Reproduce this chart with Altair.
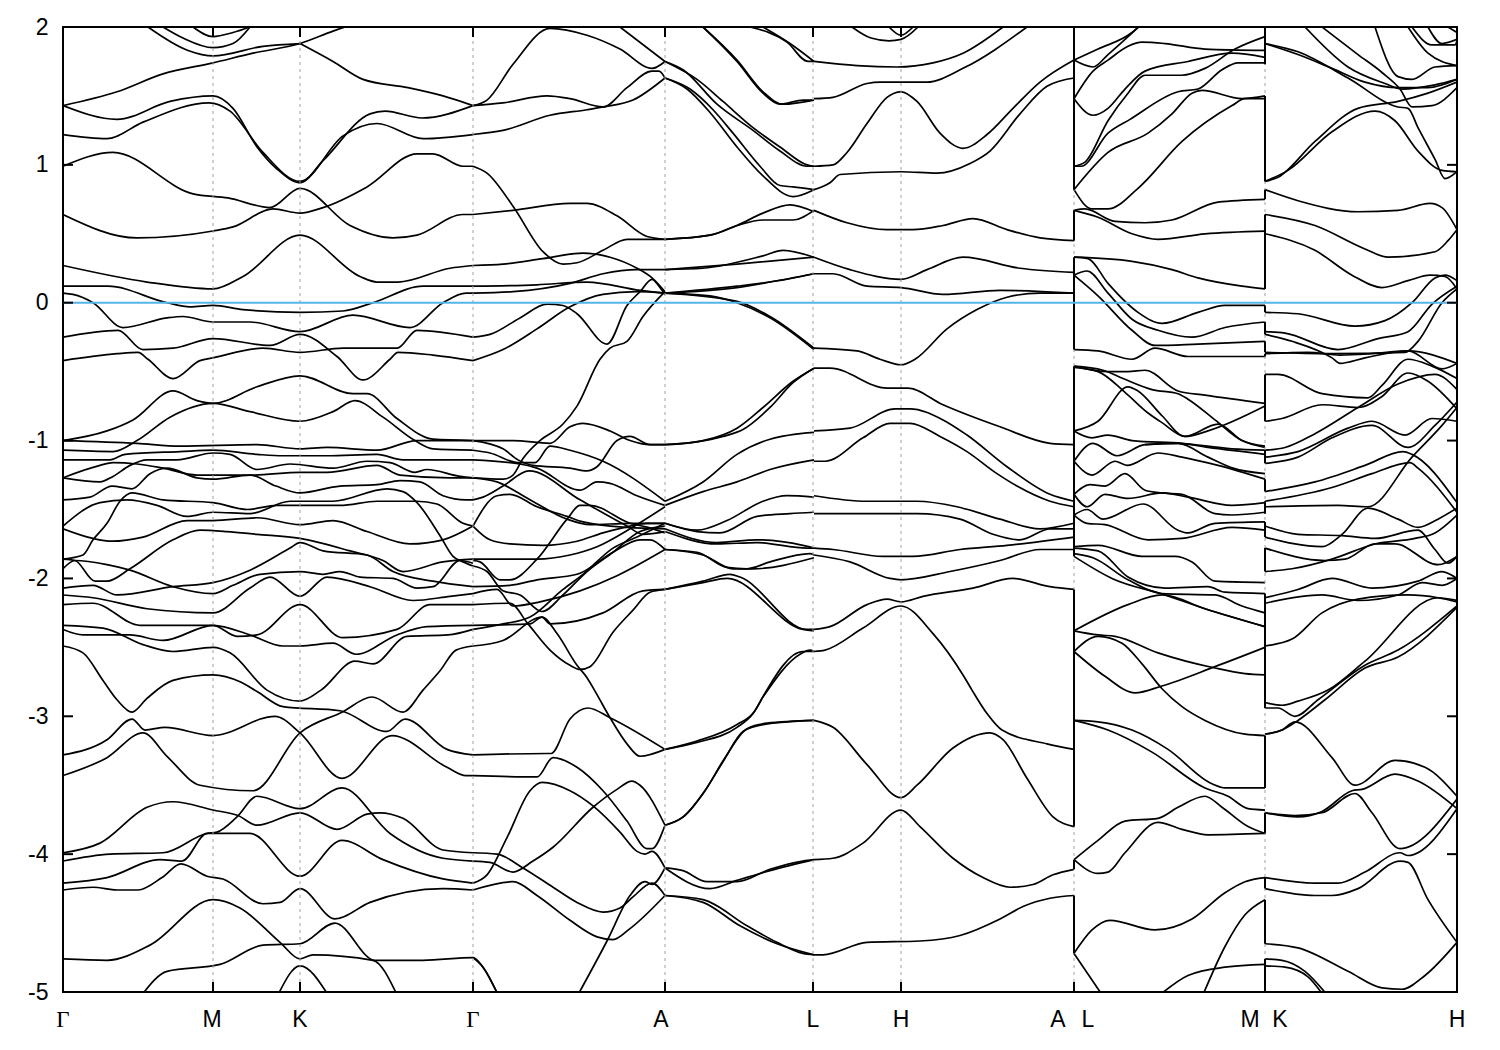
import altair as alt
import pandas as pd

k_ticks = [0, 150, 237, 410, 602, 750, 838, 1011, 1202, 1394]
grid_k = [150, 237, 410, 602, 750, 838, 1011, 1202]
y_ticks = [-5, -4, -3, -2, -1, 0, 1, 2]
label_text = ["Γ", "M", "K", "Γ", "A", "L", "H", "A", "L", "M", "K", "H"]
label_k = [0, 149, 237, 410, 598, 750, 838, 995, 1025, 1187, 1217, 1394]

# Γ - M - K - Γ
path_a = [
 [(130,2.0),(150,1.93),(170,1.96),(187,2.0)],
 [(100,2.0),(120,1.92),(150,1.85),(170,1.88),(187,2.0)],
 [(85,2.0),(125,1.83),(150,1.79),(200,1.86),(237,1.88)],
 [(0,1.43),(54,1.53),(100,1.66),(150,1.74),(190,1.81),(237,1.88),(270,1.97),(290,2.02)],
 [(237,1.88),(270,1.75),(300,1.62),(345,1.56),(380,1.50),(410,1.43)],
 [(0,1.43),(54,1.33),(107,1.46),(150,1.50),(170,1.41),(194,1.13),(214,0.97),(237,0.87),(260,1.03),(307,1.37),(322,1.39),(359,1.34),(410,1.43)],
 [(0,1.22),(44,1.19),(80,1.31),(146,1.45),(167,1.39),(200,1.09),(237,0.88),(280,1.21),(314,1.30),(360,1.19),(410,1.22)],
 [(0,0.99),(50,1.09),(130,0.79),(165,0.76),(207,0.69),(237,0.83),(287,0.56),(330,0.47),(354,0.49),(400,0.64),(410,0.64)],
 [(0,0.64),(74,0.47),(150,0.52),(170,0.55),(210,0.68),(237,0.65),(260,0.69),(304,0.84),(354,1.08),(370,1.08),(400,0.99),(410,0.99)],
 [(0,0.27),(84,0.15),(150,0.10),(180,0.19),(237,0.49),(297,0.19),(314,0.15),(335,0.15),(387,0.25),(410,0.27)],
 [(0,0.12),(45,0.12),(104,0.0),(127,-0.03),(150,-0.02),(180,-0.05),(237,-0.07),(280,-0.06),(310,0.0),(360,0.12),(410,0.12)],
 [(0,0.07),(10,0.06),(30,0.0),(60,-0.18),(104,-0.11),(120,-0.10),(150,-0.14),(187,-0.14),(237,-0.21),(290,-0.09),(347,-0.18),(380,0.0),(403,0.07),(410,0.07)],
 [(0,-0.42),(54,-0.37),(75,-0.36),(85,-0.41),(110,-0.55),(137,-0.42),(150,-0.40),(200,-0.33),(237,-0.36),(280,-0.33),(334,-0.33),(354,-0.20),(410,-0.25)],
 [(0,-0.25),(55,-0.20),(80,-0.34),(110,-0.33),(150,-0.26),(207,-0.31),(237,-0.23),(274,-0.39),(300,-0.56),(327,-0.41),(335,-0.36),(370,-0.38),(410,-0.42)],
 [(0,-1.0),(44,-0.93),(70,-0.85),(110,-0.64),(134,-0.71),(150,-0.73),(194,-0.61),(237,-0.53),(290,-0.66),(304,-0.66),(334,-0.84),(370,-0.99),(410,-1.0)],
 [(0,-1.07),(50,-1.08),(74,-1.0),(107,-0.83),(150,-0.73),(187,-0.79),(237,-0.86),(270,-0.79),(292,-0.71),(320,-0.83),(352,-1.0),(370,-1.06),(410,-1.07)],
 [(0,-1.0),(74,-1.02),(117,-1.04),(194,-1.03),(237,-1.06),(264,-1.05),(314,-1.07),(354,-1.0),(410,-1.0)],
 [(0,-1.14),(47,-1.14),(62,-1.10),(117,-1.08),(150,-1.07),(194,-1.10),(220,-1.11),(264,-1.11),(314,-1.10),(340,-1.14),(410,-1.14)],
 [(0,-1.27),(37,-1.18),(50,-1.16),(74,-1.17),(100,-1.20),(134,-1.25),(170,-1.25),(190,-1.25),(237,-1.23),(264,-1.23),(314,-1.18),(337,-1.25),(387,-1.27),(410,-1.27)],
 [(0,-1.27),(37,-1.30),(50,-1.26),(67,-1.18),(84,-1.14),(114,-1.14),(150,-1.09),(167,-1.10),(194,-1.21),(227,-1.17),(270,-1.20),(304,-1.15),(327,-1.16),(352,-1.23),(364,-1.21),(397,-1.26),(410,-1.27)],
 [(0,-1.43),(27,-1.41),(49,-1.33),(69,-1.35),(87,-1.24),(104,-1.20),(134,-1.27),(150,-1.28),(187,-1.25),(213,-1.33),(237,-1.38),(277,-1.33),(314,-1.32),(337,-1.29),(357,-1.30),(380,-1.40),(403,-1.43),(410,-1.43)],
 [(0,-1.62),(37,-1.45),(64,-1.43),(94,-1.47),(124,-1.55),(150,-1.52),(187,-1.53),(227,-1.44),(270,-1.44),(324,-1.35),(340,-1.37),(354,-1.45),(377,-1.69),(390,-1.84),(400,-1.88),(410,-1.91)],
 [(0,-1.86),(20,-1.83),(30,-1.72),(44,-1.60),(57,-1.44),(69,-1.38),(100,-1.43),(150,-1.45),(184,-1.50),(214,-1.47),(237,-1.47),(277,-1.47),(314,-1.44),(354,-1.44),(374,-1.46),(400,-1.60),(410,-1.62)],
 [(0,-1.64),(30,-1.71),(49,-1.73),(80,-1.70),(124,-1.58),(150,-1.58),(194,-1.56),(237,-1.61),(270,-1.58),(304,-1.66),(347,-1.75),(380,-1.72),(410,-1.62)],
 [(0,-1.93),(12,-1.87),(44,-1.90),(67,-1.94),(110,-2.06),(150,-2.11),(170,-2.05),(197,-1.97),(237,-1.95),(260,-1.97),(277,-1.95),(297,-1.99),(330,-2.0),(354,-2.07),(370,-2.06),(397,-1.87),(410,-1.89)],
 [(0,-1.86),(12,-1.87),(32,-2.02),(44,-2.02),(67,-1.93),(110,-1.72),(137,-1.65),(164,-1.66),(194,-1.68),(237,-1.71),(287,-1.80),(320,-1.87),(340,-1.95),(380,-1.88),(410,-1.86)],
 [(0,-2.07),(30,-2.05),(54,-2.12),(110,-2.06),(150,-2.03),(187,-1.94),(227,-1.78),(237,-1.74),(260,-1.80),(304,-1.83),(330,-1.95),(370,-2.02),(410,-2.06)],
 [(0,-2.12),(30,-2.14),(84,-2.22),(150,-2.25),(187,-2.07),(207,-1.99),(237,-2.13),(264,-1.99),(307,-2.06),(350,-2.16),(387,-2.13),(410,-2.11)],
 [(0,-2.19),(30,-2.18),(77,-2.34),(150,-2.34),(187,-2.41),(220,-2.49),(237,-2.49),(270,-2.47),(293,-2.55),(334,-2.41),(364,-2.35),(410,-2.34)],
 [(0,-2.37),(20,-2.41),(67,-2.41),(100,-2.45),(150,-2.34),(174,-2.42),(194,-2.41),(237,-2.19),(280,-2.43),(334,-2.37),(367,-2.19),(410,-2.19)],
 [(0,-2.34),(40,-2.36),(80,-2.48),(110,-2.53),(150,-2.50),(167,-2.54),(204,-2.81),(237,-2.89),(258,-2.81),(292,-2.60),(310,-2.62),(344,-2.42),(385,-2.41),(410,-2.37)],
 [(0,-2.49),(20,-2.54),(40,-2.74),(54,-2.88),(69,-2.97),(84,-2.87),(110,-2.74),(150,-2.70),(177,-2.75),(194,-2.82),(220,-2.93),(277,-2.96),(324,-3.11),(342,-3.02),(384,-3.24),(410,-3.28)],
 [(0,-3.28),(44,-3.17),(69,-3.02),(82,-3.10),(102,-3.08),(150,-3.14),(212,-3.0),(237,-3.12),(279,-3.45),(329,-3.14),(384,-3.37),(403,-3.43),(410,-3.43)],
 [(0,-3.43),(44,-3.30),(80,-3.12),(104,-3.29),(137,-3.50),(190,-3.54),(237,-3.12),(279,-2.97),(309,-2.86),(340,-2.97),(360,-2.81),(377,-2.67),(393,-2.52),(410,-2.49)],
 [(0,-3.99),(37,-3.92),(84,-3.66),(110,-3.62),(150,-3.68),(175,-3.72),(194,-3.79),(237,-3.70),(274,-3.82),(304,-3.71),(317,-3.70),(340,-3.74),(380,-3.97),(410,-3.99)],
 [(0,-4.05),(47,-4.0),(100,-3.99),(144,-3.85),(154,-3.84),(174,-3.73),(194,-3.58),(237,-3.67),(279,-3.52),(327,-3.85),(380,-4.03),(410,-4.05)],
 [(0,-4.21),(44,-4.17),(97,-4.04),(119,-4.05),(144,-3.85),(187,-3.85),(237,-4.16),(279,-3.90),(320,-4.04),(380,-4.18),(410,-4.21)],
 [(0,-4.26),(30,-4.24),(54,-4.26),(75,-4.26),(99,-4.17),(118,-4.07),(144,-4.16),(160,-4.18),(200,-4.36),(217,-4.35),(237,-4.25),(272,-4.47),(307,-4.35),(380,-4.25),(410,-4.26)],
 [(0,-4.76),(44,-4.77),(87,-4.66),(150,-4.33),(177,-4.39),(217,-4.64),(237,-4.76),(250,-4.73),(310,-4.77),(334,-5.02)],
 [(79,-5.02),(104,-4.85),(157,-4.80),(200,-4.66),(237,-4.65),(272,-4.50),(312,-4.77),(360,-4.77),(410,-4.75),(420,-4.82),(435,-5.02)],
 [(215,-5.02),(237,-4.81),(265,-5.02)],
]

# Γ - A
path_b = [
 [(410,1.43),(424,1.47),(450,1.73),(487,1.99),(524,1.94),(557,1.84),(589,1.70),(602,1.75)],
 [(410,1.43),(440,1.45),(484,1.50),(507,1.48),(540,1.42),(564,1.56),(589,1.68),(596,1.68),(602,1.63)],
 [(410,1.22),(440,1.25),(487,1.36),(524,1.40),(540,1.42),(570,1.47),(602,1.63)],
 [(557,2.0),(602,1.75)],
 [(410,0.99),(424,0.94),(450,0.70),(480,0.37),(500,0.28),(514,0.29),(540,0.38),(564,0.46),(602,0.46)],
 [(410,0.64),(450,0.67),(507,0.72),(524,0.72),(554,0.63),(584,0.48),(602,0.46)],
 [(410,0.27),(440,0.28),(480,0.32),(520,0.36),(547,0.33),(574,0.25),(589,0.18),(602,0.08)],
 [(410,0.12),(474,0.13),(524,0.15),(577,0.09),(602,0.07)],
 [(410,0.07),(450,0.08),(507,0.14),(540,0.21),(574,0.24),(602,0.24)],
 [(410,-0.25),(427,-0.23),(457,-0.11),(484,-0.01),(500,-0.02),(514,-0.08),(544,-0.30),(564,-0.02),(577,0.08),(589,0.17),(596,0.12),(602,0.06)],
 [(410,-0.42),(440,-0.34),(474,-0.19),(507,-0.03),(540,0.06),(574,0.08),(602,0.07)],
 [(410,-1.27),(440,-1.28),(450,-1.25),(460,-1.13),(477,-1.0),(500,-0.88),(514,-0.75),(537,-0.41),(547,-0.33),(564,-0.28),(580,-0.10),(602,0.08)],
 [(410,-1.0),(450,-1.0),(487,-1.02),(507,-0.90),(520,-0.875),(547,-0.93),(567,-1.0),(587,-1.03),(602,-1.03)],
 [(410,-1.07),(427,-1.09),(455,-1.16),(472,-1.16),(487,-1.04),(507,-1.07),(540,-1.15),(602,-1.44)],
 [(410,-1.0),(440,-1.06),(455,-1.14),(470,-1.18),(507,-1.20),(524,-1.22),(534,-1.19),(554,-1.0),(567,-0.97),(587,-1.03),(602,-1.03)],
 [(410,-1.14),(457,-1.17),(474,-1.20),(517,-1.36),(534,-1.30),(547,-1.31),(574,-1.40),(602,-1.47)],
 [(410,-1.27),(434,-1.30),(467,-1.43),(504,-1.57),(527,-1.61),(567,-1.60),(602,-1.60)],
 [(410,-1.43),(420,-1.41),(440,-1.33),(466,-1.22),(517,-1.43),(564,-1.62),(580,-1.68),(602,-1.66)],
 [(410,-1.62),(434,-1.40),(447,-1.39),(474,-1.48),(504,-1.55),(520,-1.59),(564,-1.63),(602,-1.64)],
 [(410,-1.62),(427,-1.72),(447,-1.75),(480,-1.76),(514,-1.73),(540,-1.67),(567,-1.62),(584,-1.60),(602,-1.60)],
 [(410,-1.86),(450,-1.86),(474,-1.86),(507,-1.83),(534,-1.77),(567,-1.64),(602,-1.48)],
 [(410,-1.87),(417,-1.88),(437,-2.01),(447,-2.01),(474,-1.86),(504,-1.57),(517,-1.47),(527,-1.47),(567,-1.60),(585,-1.63),(602,-1.67)],
 [(410,-1.91),(424,-1.95),(440,-2.09),(457,-2.12),(479,-2.24),(500,-2.12),(524,-1.95),(550,-1.81),(577,-1.66),(602,-1.62)],
 [(410,-2.06),(447,-2.05),(474,-2.01),(514,-1.97),(550,-1.81),(577,-1.72),(587,-1.72),(602,-1.79)],
 [(410,-2.11),(434,-2.08),(450,-2.20),(477,-2.17),(517,-2.09),(554,-1.98),(602,-1.79)],
 [(410,-2.19),(447,-2.18),(465,-2.33),(487,-2.52),(507,-2.63),(517,-2.66),(527,-2.64),(550,-2.39),(570,-2.23),(587,-2.10),(602,-2.08)],
 [(410,-2.37),(440,-2.33),(467,-2.28),(500,-2.08),(520,-1.97),(550,-1.78),(574,-1.70),(602,-1.60)],
 [(410,-2.34),(467,-2.33),(479,-2.28),(494,-2.40),(514,-2.63),(524,-2.72),(533,-2.83),(547,-3.01),(564,-3.20),(577,-3.29),(602,-3.24)],
 [(410,-2.49),(440,-2.45),(479,-2.28),(487,-2.33),(540,-2.25),(580,-2.09),(602,-2.08)],
 [(410,-3.28),(484,-3.27),(488,-3.27),(507,-3.02),(525,-2.94),(547,-3.01),(602,-3.24)],
 [(410,-3.43),(474,-3.44),(490,-3.30),(514,-3.37),(540,-3.54),(564,-3.76),(584,-3.96),(589,-3.96),(602,-3.79)],
 [(410,-4.21),(424,-4.15),(444,-3.88),(467,-3.54),(479,-3.48),(507,-3.54),(530,-3.65),(557,-3.84),(574,-3.98),(582,-4.0),(589,-3.98),(602,-4.10)],
 [(410,-3.99),(434,-4.0),(460,-4.10),(490,-4.24),(514,-4.35),(540,-4.42),(557,-4.39),(570,-4.31),(589,-4.21),(602,-4.30)],
 [(410,-4.05),(427,-4.06),(450,-4.13),(470,-4.05),(490,-3.95),(530,-3.66),(554,-3.53),(569,-3.47),(577,-3.50),(602,-3.79)],
 [(410,-4.26),(450,-4.20),(474,-4.30),(507,-4.48),(534,-4.60),(550,-4.62),(567,-4.54),(602,-4.30)],
 [(515,-5.02),(544,-4.63),(567,-4.30),(582,-4.20),(589,-4.22),(602,-4.10)],
 [(410,-4.75),(420,-4.82),(435,-5.02)],
]

# A - L
path_c = [
 [(602,1.75),(634,1.62),(660,1.46),(690,1.27),(717,1.13),(744,1.0),(751,0.99)],
 [(602,1.75),(620,1.69),(654,1.44),(690,1.25),(717,1.10),(744,0.99),(751,0.99)],
 [(602,1.63),(627,1.55),(650,1.40),(670,1.23),(697,0.99),(717,0.85),(730,0.84),(751,0.82)],
 [(602,1.63),(624,1.55),(647,1.38),(674,1.13),(700,0.92),(730,0.77),(751,0.82)],
 [(640,2.0),(674,1.76),(700,1.53),(720,1.44),(751,1.47)],
 [(640,2.0),(674,1.75),(700,1.52),(717,1.44),(740,1.47),(751,1.47)],
 [(687,2.0),(724,1.89),(745,1.75),(751,1.75)],
 [(700,2.0),(727,1.88),(751,1.75)],
 [(602,0.46),(647,0.49),(674,0.56),(700,0.65),(727,0.71),(751,0.66)],
 [(602,0.46),(647,0.49),(674,0.56),(700,0.60),(730,0.60),(751,0.67)],
 [(602,0.24),(640,0.25),(700,0.34),(720,0.38),(751,0.33)],
 [(602,0.24),(674,0.28),(751,0.33)],
 [(602,0.07),(674,0.01),(707,-0.10),(751,-0.33)],
 [(602,0.07),(647,0.05),(674,0.0),(707,-0.11),(751,-0.34)],
 [(602,0.07),(674,0.12),(724,0.17),(751,0.21)],
 [(602,0.07),(674,0.11),(707,0.15),(751,0.21)],
 [(602,-1.03),(634,-1.01),(660,-0.97),(680,-0.92),(707,-0.76),(730,-0.58),(751,-0.475)],
 [(602,-1.03),(640,-1.0),(674,-0.91),(700,-0.76),(730,-0.57),(751,-0.475)],
 [(602,-1.44),(640,-1.30),(674,-1.10),(707,-0.99),(751,-0.94)],
 [(602,-1.47),(640,-1.37),(674,-1.30),(707,-1.21),(751,-1.14)],
 [(602,-1.60),(634,-1.65),(664,-1.58),(700,-1.44),(724,-1.40),(751,-1.41)],
 [(602,-1.60),(634,-1.66),(657,-1.67),(694,-1.55),(727,-1.53),(751,-1.52)],
 [(602,-1.64),(654,-1.74),(694,-1.72),(740,-1.76),(751,-1.78)],
 [(602,-1.66),(654,-1.75),(694,-1.74),(744,-1.78),(751,-1.78)],
 [(602,-1.79),(634,-1.81),(664,-1.92),(684,-1.93),(707,-1.88),(747,-1.82),(751,-1.83)],
 [(602,-1.79),(640,-1.83),(670,-1.93),(690,-1.93),(751,-1.85)],
 [(602,-2.08),(640,-2.02),(667,-1.97),(677,-1.99),(744,-2.37),(751,-2.37)],
 [(602,-2.08),(640,-2.03),(664,-2.0),(740,-2.37),(751,-2.38)],
 [(699,-2.87),(737,-2.55),(747,-2.52),(751,-2.53)],
 [(699,-2.87),(740,-2.53),(751,-2.53)],
 [(602,-3.24),(634,-3.19),(674,-3.08),(690,-2.98),(699,-2.87)],
 [(602,-3.24),(634,-3.18),(674,-3.06),(692,-2.96),(699,-2.87)],
 [(602,-3.79),(620,-3.73),(640,-3.56),(660,-3.33),(680,-3.11),(700,-3.06),(751,-3.03)],
 [(602,-3.79),(622,-3.72),(642,-3.54),(662,-3.30),(684,-3.09),(704,-3.05),(751,-3.03)],
 [(602,-4.10),(620,-4.12),(644,-4.20),(674,-4.20),(707,-4.11),(740,-4.05),(751,-4.04)],
 [(602,-4.10),(647,-4.25),(674,-4.19),(707,-4.12),(751,-4.04)],
 [(602,-4.30),(640,-4.33),(684,-4.52),(714,-4.64),(740,-4.72),(751,-4.73)],
 [(602,-4.30),(640,-4.35),(677,-4.52),(714,-4.65),(751,-4.73)],
]

# L - H - A
path_d = [
 [(751,1.75),(794,1.72),(834,1.71),(870,1.74),(900,1.81),(940,2.0)],
 [(751,1.48),(770,1.49),(804,1.59),(817,1.60),(864,1.60),(900,1.70),(964,2.0)],
 [(751,0.99),(770,1.0),(784,1.09),(804,1.30),(824,1.49),(838,1.53),(854,1.46),(877,1.23),(900,1.12),(924,1.22),(950,1.41),(977,1.60),(1011,1.76)],
 [(751,0.82),(767,0.87),(777,0.93),(838,0.95),(874,0.94),(907,1.01),(927,1.10),(957,1.37),(984,1.57),(1011,1.63)],
 [(751,0.67),(784,0.58),(824,0.53),(850,0.53),(880,0.56),(910,0.61),(944,0.53),(977,0.47),(1011,0.45)],
 [(751,0.33),(787,0.24),(838,0.17),(864,0.24),(900,0.33),(957,0.25),(1011,0.22)],
 [(751,0.21),(770,0.21),(804,0.12),(838,0.11),(880,0.06),(937,0.09),(1011,0.07)],
 [(751,-0.33),(794,-0.35),(817,-0.41),(838,-0.45),(852,-0.41),(884,-0.19),(914,-0.05),(944,0.04),(977,0.07),(1011,0.07)],
 [(751,-0.475),(767,-0.475),(824,-0.62),(845,-0.62),(880,-0.74),(937,-0.90),(987,-1.02),(1011,-1.03)],
 [(751,-0.93),(787,-0.91),(832,-0.77),(847,-0.77),(880,-0.85),(904,-0.96),(944,-1.19),(987,-1.39),(1011,-1.44)],
 [(751,-1.15),(762,-1.15),(800,-0.98),(827,-0.875),(847,-0.875),(877,-0.97),(904,-1.08),(934,-1.24),(954,-1.33),(987,-1.44),(1011,-1.48)],
 [(751,-1.40),(804,-1.44),(854,-1.44),(894,-1.48),(937,-1.57),(977,-1.64),(1011,-1.60)],
 [(751,-1.53),(804,-1.53),(854,-1.53),(897,-1.57),(930,-1.68),(957,-1.72),(987,-1.64),(1011,-1.64)],
 [(751,-1.78),(770,-1.79),(820,-1.84),(850,-1.84),(897,-1.79),(944,-1.76),(1011,-1.70)],
 [(751,-1.83),(787,-1.88),(827,-2.0),(838,-2.01),(887,-1.95),(937,-1.87),(977,-1.79),(1011,-1.79)],
 [(751,-2.37),(767,-2.35),(804,-2.19),(824,-2.15),(838,-2.17),(860,-2.13),(910,-2.07),(950,-2.0),(987,-2.06),(1011,-2.08)],
 [(751,-2.53),(762,-2.52),(800,-2.36),(838,-2.20),(870,-2.40),(900,-2.70),(909,-2.81),(924,-2.98),(939,-3.10),(984,-3.20),(1011,-3.24)],
 [(751,-3.03),(770,-3.08),(804,-3.35),(838,-3.59),(854,-3.50),(890,-3.23),(927,-3.12),(940,-3.17),(964,-3.45),(990,-3.73),(1011,-3.80)],
 [(751,-4.04),(770,-4.03),(800,-3.92),(838,-3.68),(857,-3.80),(890,-4.03),(920,-4.17),(947,-4.24),(970,-4.22),(990,-4.15),(1011,-4.11)],
 [(751,-4.73),(760,-4.73),(804,-4.64),(857,-4.63),(897,-4.59),(937,-4.47),(960,-4.38),(987,-4.32),(1011,-4.30)],
 [(789,2.0),(808,1.92),(826,1.90),(838,1.91),(855,2.0)],
 [(826,2.0),(838,1.94),(850,2.0)],
]

# L - M
path_e = [
 [(1011,1.76),(1035,1.84),(1069,1.96),(1077,2.01)],
 [(1011,1.76),(1030,1.71),(1045,1.80),(1077,2.01)],
 [(1011,1.48),(1030,1.68),(1045,1.76),(1065,1.86),(1079,1.89),(1102,1.88),(1142,1.84),(1202,1.83)],
 [(1011,1.48),(1030,1.36),(1045,1.41),(1062,1.55),(1082,1.68),(1125,1.75),(1169,1.81),(1202,1.78)],
 [(1011,0.99),(1022,1.02),(1045,1.32),(1065,1.52),(1082,1.65),(1119,1.65),(1142,1.70),(1172,1.84),(1202,1.93)],
 [(1011,0.99),(1018,0.99),(1045,1.23),(1067,1.33),(1115,1.53),(1135,1.55),(1159,1.69),(1175,1.74),(1202,1.74)],
 [(1011,0.82),(1045,1.09),(1085,1.23),(1109,1.37),(1129,1.52),(1139,1.54),(1179,1.48),(1202,1.50)],
 [(1011,0.82),(1029,0.68),(1045,0.68),(1075,0.83),(1119,1.17),(1169,1.43),(1182,1.48),(1202,1.48)],
 [(1011,0.67),(1022,0.68),(1052,0.59),(1082,0.58),(1109,0.60),(1155,0.73),(1202,0.75)],
 [(1011,0.67),(1035,0.62),(1069,0.50),(1095,0.46),(1142,0.50),(1202,0.52)],
 [(1011,0.33),(1069,0.30),(1109,0.24),(1135,0.18),(1179,0.12),(1202,0.10)],
 [(1011,0.33),(1025,0.32),(1045,0.14),(1075,-0.07),(1099,-0.15),(1135,-0.07),(1162,-0.02),(1202,-0.02)],
 [(1011,0.20),(1024,0.23),(1045,0.07),(1069,-0.12),(1095,-0.20),(1129,-0.25),(1162,-0.18),(1202,-0.14)],
 [(1011,0.20),(1035,0.05),(1069,-0.20),(1092,-0.31),(1135,-0.30),(1202,-0.28)],
 [(1011,-0.34),(1035,-0.35),(1069,-0.41),(1092,-0.33),(1125,-0.39),(1202,-0.39)],
 [(1011,-0.46),(1045,-0.50),(1065,-0.50),(1082,-0.49),(1115,-0.64),(1142,-0.67),(1202,-0.73)],
 [(1011,-0.46),(1040,-0.49),(1060,-0.55),(1089,-0.63),(1115,-0.66),(1125,-0.70),(1152,-0.85),(1179,-1.0),(1202,-1.04)],
 [(1011,-0.93),(1035,-0.86),(1065,-0.61),(1075,-0.64),(1099,-0.82),(1122,-0.97),(1145,-0.93),(1202,-0.75)],
 [(1011,-0.47),(1035,-0.50),(1062,-0.65),(1085,-0.80),(1099,-0.87),(1122,-0.97),(1155,-0.88),(1179,-1.0),(1202,-1.05)],
 [(1011,-0.93),(1029,-0.98),(1045,-0.96),(1069,-1.0),(1119,-1.02),(1169,-1.06),(1202,-1.07)],
 [(1011,-1.15),(1030,-1.02),(1054,-1.11),(1082,-1.03),(1115,-1.02),(1145,-1.05),(1202,-1.10)],
 [(1082,-1.03),(1115,-1.02),(1145,-1.12),(1170,-1.20),(1202,-1.24)],
 [(1011,-1.15),(1029,-1.25),(1052,-1.15),(1064,-1.18),(1095,-1.09),(1119,-1.12),(1155,-1.18),(1202,-1.28)],
 [(1011,-1.39),(1027,-1.32),(1042,-1.33),(1062,-1.24),(1082,-1.36),(1099,-1.38),(1119,-1.39),(1152,-1.53),(1169,-1.54),(1202,-1.52)],
 [(1011,-1.39),(1024,-1.48),(1042,-1.39),(1065,-1.42),(1099,-1.38),(1125,-1.41),(1169,-1.47),(1202,-1.45)],
 [(1011,-1.54),(1024,-1.50),(1040,-1.57),(1080,-1.46),(1115,-1.65),(1125,-1.67),(1152,-1.60),(1202,-1.59)],
 [(1011,-1.54),(1024,-1.60),(1042,-1.61),(1085,-1.72),(1119,-1.71),(1169,-1.63),(1202,-1.65)],
 [(1011,-1.77),(1035,-1.76),(1079,-1.84),(1112,-1.84),(1129,-1.88),(1152,-2.02),(1202,-2.03)],
 [(1011,-1.78),(1035,-1.80),(1065,-1.99),(1102,-2.07),(1145,-2.06),(1162,-2.10),(1202,-2.11)],
 [(1011,-1.82),(1030,-1.85),(1065,-2.01),(1099,-2.11),(1152,-2.12),(1179,-2.20),(1202,-2.25)],
 [(1011,-1.84),(1049,-2.0),(1102,-2.12),(1142,-2.22),(1202,-2.35)],
 [(1011,-2.38),(1065,-2.19),(1099,-2.12),(1142,-2.22),(1202,-2.35)],
 [(1011,-2.38),(1035,-2.41),(1052,-2.42),(1095,-2.54),(1152,-2.65),(1182,-2.69),(1202,-2.70)],
 [(1011,-2.53),(1035,-2.42),(1059,-2.47),(1079,-2.62),(1099,-2.80),(1119,-2.93),(1142,-3.03),(1182,-3.13),(1202,-3.14)],
 [(1011,-2.53),(1042,-2.71),(1072,-2.83),(1099,-2.78),(1152,-2.64),(1202,-2.50)],
 [(1011,-3.03),(1035,-3.04),(1069,-3.10),(1105,-3.24),(1149,-3.49),(1162,-3.52),(1202,-3.52)],
 [(1011,-3.03),(1045,-3.10),(1089,-3.26),(1142,-3.52),(1165,-3.58),(1185,-3.67),(1202,-3.68)],
 [(1011,-4.04),(1035,-4.14),(1045,-4.13),(1062,-3.99),(1095,-3.77),(1119,-3.82),(1145,-3.86),(1202,-3.85)],
 [(1011,-4.04),(1035,-3.90),(1062,-3.76),(1095,-3.74),(1115,-3.66),(1142,-3.58),(1159,-3.66),(1185,-3.80),(1202,-3.85)],
 [(1011,-4.72),(1029,-4.55),(1047,-4.48),(1092,-4.55),(1129,-4.47),(1162,-4.28),(1182,-4.20),(1202,-4.17)],
 [(1011,-4.72),(1039,-5.02)],
 [(1097,-5.02),(1125,-4.88),(1162,-4.82),(1202,-4.80)],
 [(1140,-5.02),(1162,-4.67),(1182,-4.44),(1202,-4.33)],
]

# K - H
path_f = [
 [(1242,2.0),(1285,1.71),(1322,1.59),(1339,1.55),(1372,1.58),(1394,1.62)],
 [(1259,2.0),(1295,1.80),(1319,1.67),(1337,1.55),(1349,1.42),(1369,1.43),(1394,1.56)],
 [(1312,2.0),(1335,1.64),(1349,1.62),(1372,1.71),(1394,1.72)],
 [(1202,1.88),(1235,1.82),(1285,1.63),(1335,1.42),(1345,1.41),(1355,1.27),(1372,1.04),(1382,0.90),(1394,0.95)],
 [(1202,1.88),(1235,1.80),(1269,1.70),(1302,1.60),(1335,1.56),(1365,1.56),(1394,1.62)],
 [(1345,2.0),(1365,1.81),(1394,1.72)],
 [(1349,2.0),(1369,1.87),(1392,1.87),(1394,1.90)],
 [(1365,2.0),(1379,1.88),(1394,1.91)],
 [(1385,2.0),(1394,1.96)],
 [(1202,0.88),(1215,0.91),(1252,1.17),(1295,1.41),(1335,1.46),(1365,1.52),(1394,1.60)],
 [(1202,0.88),(1225,0.96),(1269,1.24),(1312,1.39),(1332,1.32),(1355,1.10),(1379,0.96),(1394,0.95)],
 [(1202,0.82),(1235,0.74),(1295,0.66),(1335,0.67),(1367,0.72),(1379,0.69),(1394,0.53)],
 [(1202,0.64),(1252,0.56),(1302,0.39),(1325,0.33),(1372,0.37),(1385,0.45),(1394,0.53)],
 [(1202,0.50),(1252,0.38),(1289,0.20),(1319,0.11),(1345,0.16),(1367,0.20),(1382,0.19),(1394,0.10)],
 [(1202,-0.07),(1235,-0.08),(1292,-0.17),(1322,-0.13),(1349,0.0),(1372,0.18),(1382,0.20),(1394,0.16)],
 [(1202,-0.21),(1222,-0.22),(1275,-0.34),(1315,-0.26),(1345,-0.21),(1369,-0.01),(1394,0.12)],
 [(1202,-0.23),(1229,-0.28),(1269,-0.40),(1277,-0.44),(1302,-0.40),(1345,-0.35),(1379,-0.48),(1394,-0.44)],
 [(1202,-0.36),(1269,-0.37),(1342,-0.36),(1355,-0.28),(1379,0.0),(1394,0.10)],
 [(1202,-0.37),(1245,-0.36),(1277,-0.38),(1309,-0.37),(1345,-0.35),(1394,-0.44)],
 [(1202,-0.52),(1215,-0.52),(1259,-0.66),(1305,-0.69),(1319,-0.60),(1345,-0.41),(1369,-0.46),(1394,-0.55)],
 [(1202,-0.86),(1219,-0.84),(1259,-0.74),(1295,-0.76),(1319,-0.68),(1345,-0.51),(1365,-0.57),(1394,-0.77)],
 [(1202,-1.07),(1222,-1.05),(1252,-0.95),(1295,-0.76),(1335,-0.59),(1372,-0.52),(1394,-0.63)],
 [(1202,-1.12),(1235,-1.08),(1285,-0.91),(1309,-0.86),(1342,-0.96),(1369,-0.84),(1394,-0.86)],
 [(1202,-1.165),(1235,-1.12),(1269,-0.98),(1309,-0.89),(1345,-1.05),(1372,-0.89),(1394,-0.72)],
 [(1202,-1.37),(1252,-1.30),(1302,-1.18),(1340,-1.08),(1349,-1.10),(1394,-1.45)],
 [(1202,-1.44),(1269,-1.34),(1309,-1.24),(1347,-1.16),(1355,-1.20),(1394,-1.52)],
 [(1202,-1.48),(1275,-1.47),(1305,-1.48),(1349,-1.12),(1379,-0.89),(1394,-0.76)],
 [(1202,-1.70),(1259,-1.77),(1279,-1.68),(1305,-1.49),(1335,-1.57),(1355,-1.63),(1375,-1.57),(1394,-1.49)],
 [(1202,-1.62),(1235,-1.68),(1279,-1.69),(1312,-1.71),(1355,-1.65),(1372,-1.79),(1385,-1.89),(1394,-1.84)],
 [(1202,-1.78),(1262,-1.87),(1282,-1.86),(1312,-1.75),(1332,-1.75),(1375,-1.90),(1394,-1.84)],
 [(1202,-1.95),(1229,-1.93),(1269,-1.86),(1312,-1.75),(1352,-1.71),(1372,-1.67),(1394,-1.54)],
 [(1202,-2.14),(1235,-2.08),(1269,-2.0),(1309,-2.07),(1355,-2.02),(1379,-1.95),(1394,-2.0)],
 [(1202,-2.18),(1259,-2.12),(1295,-2.16),(1335,-2.12),(1359,-2.03),(1379,-2.05),(1394,-2.0)],
 [(1202,-2.49),(1229,-2.44),(1259,-2.25),(1295,-2.15),(1345,-2.12),(1375,-2.14),(1394,-2.17)],
 [(1202,-2.90),(1219,-2.92),(1235,-2.89),(1265,-2.81),(1302,-2.60),(1375,-2.14),(1394,-2.16)],
 [(1202,-2.94),(1215,-2.94),(1232,-3.0),(1255,-2.88),(1302,-2.63),(1335,-2.52),(1394,-2.20)],
 [(1202,-3.13),(1219,-3.10),(1235,-3.03),(1262,-2.88),(1302,-2.65),(1335,-2.57),(1394,-2.21)],
 [(1202,-3.13),(1219,-3.10),(1232,-3.04),(1269,-3.30),(1292,-3.50),(1332,-3.32),(1362,-3.37),(1394,-3.58)],
 [(1202,-3.70),(1235,-3.73),(1259,-3.69),(1289,-3.54),(1299,-3.53),(1332,-3.42),(1355,-3.47),(1394,-3.67)],
 [(1202,-3.70),(1232,-3.72),(1259,-3.70),(1292,-3.56),(1309,-3.70),(1337,-3.96),(1394,-3.60)],
 [(1202,-4.17),(1252,-4.21),(1275,-4.21),(1302,-4.13),(1337,-3.99),(1345,-4.01),(1394,-3.67)],
 [(1202,-4.25),(1252,-4.30),(1269,-4.30),(1295,-4.25),(1337,-4.05),(1345,-4.06),(1365,-4.33),(1394,-4.64)],
 [(1202,-4.65),(1235,-4.68),(1285,-4.85),(1319,-4.97),(1339,-4.98),(1362,-4.88),(1394,-4.64)],
 [(1202,-4.76),(1219,-4.77),(1242,-4.85),(1264,-5.02)],
 [(1202,-4.81),(1222,-4.82),(1245,-4.89),(1260,-5.02)],
]

# vertical steps where the path jumps between disconnected k-points
jumps_l = [(2,0.82),(0.67,0.45),(0.33,-0.34),(-0.46,-1.84),(-2.08,-3.80),(-4.04,-4.11),(-4.30,-4.72)]
jumps_k = [(2,1.73),(1.50,0.88),(0.82,0.75),(0.64,0.10),(-0.02,-0.07),(-0.14,-0.23),(-0.28,-0.36),(-0.37,-0.39),
           (-0.52,-0.86),(-1.07,-1.165),(-1.28,-1.37),(-1.44,-1.53),(-1.59,-1.70),(-1.78,-1.95),(-2.11,-2.94),
           (-3.14,-3.52),(-3.70,-3.85),(-4.17,-4.25),(-4.33,-4.65),(-4.76,-5)]

rows = []
bid = 0
for path in [path_a, path_b, path_c, path_d, path_e, path_f]:
    for band in path:
        for i, (k, e) in enumerate(band):
            rows.append({"band": bid, "i": i, "k": k, "e": e})
        bid += 1
bands = pd.DataFrame(rows)

jump_df = pd.DataFrame(
    [{"k": 1011, "e": a, "b": b} for a, b in jumps_l] + [{"k": 1202, "e": a, "b": b} for a, b in jumps_k]
)

W, H = 1394, 965
xs = alt.Scale(domain=[0, 1394], nice=False, zero=False)
ys = alt.Scale(domain=[-5, 2], nice=False, zero=False)
X = alt.X("k:Q", scale=xs, axis=None)
y_axis = alt.Axis(
    values=y_ticks, title=None, grid=False, ticks=False, domain=False, labelPadding=15,
    labelFontSize=23, labelFont="Liberation Sans", labelColor="black",
    labelExpr="'' + datum.value", labelOverlap=False, labelBound=False, labelFlush=False)
Y = alt.Y("e:Q", scale=ys, axis=y_axis)

grid = alt.Chart(pd.DataFrame({"k": grid_k})).mark_rule(
    color="#a0a0a0", strokeWidth=1, strokeDash=[3, 4]
).encode(x=X)

lines = alt.Chart(bands).mark_line(
    color="black", strokeWidth=1.7, interpolate="monotone", clip=True
).encode(x=X, y=Y, detail="band:N", order="i:Q")

steps = alt.Chart(jump_df).mark_rule(color="black", strokeWidth=2, clip=True).encode(
    x=X, y=Y, y2="b:Q")

fermi = alt.Chart(pd.DataFrame({"e": [0]})).mark_rule(color="#56B4E9", strokeWidth=2).encode(y=Y)

tick_df = pd.DataFrame({"e": y_ticks[1:-1]})
left_ticks = alt.Chart(tick_df).mark_rule(color="black", strokeWidth=2).encode(
    y=Y, x=alt.value(0), x2=alt.value(10))
right_ticks = alt.Chart(tick_df).mark_rule(color="black", strokeWidth=2).encode(
    y=Y, x=alt.value(W - 10), x2=alt.value(W))
ktick_df = pd.DataFrame({"k": k_ticks[1:-1]})
top_ticks = alt.Chart(ktick_df).mark_rule(color="black", strokeWidth=2).encode(
    x=X, y=alt.value(0), y2=alt.value(10))
bottom_ticks = alt.Chart(ktick_df).mark_rule(color="black", strokeWidth=2).encode(
    x=X, y=alt.value(H - 10), y2=alt.value(H))

label_df = pd.DataFrame({"t": label_text, "k": label_k})
labels_latin = alt.Chart(label_df[label_df.t != "Γ"]).mark_text(
    fontSize=23, font="Liberation Sans", color="black", baseline="middle", clip=False
).encode(x=X, y=alt.value(H + 28), text="t:N")
labels_greek = alt.Chart(label_df[label_df.t == "Γ"]).mark_text(
    fontSize=23, font="Liberation Serif", color="black", baseline="middle", clip=False
).encode(x=X, y=alt.value(H + 28), text="t:N")

chart = alt.layer(
    lines, grid, steps, fermi, left_ticks, right_ticks, top_ticks, bottom_ticks, labels_latin, labels_greek
).properties(
    width=W, height=H, background="white",
    padding={"left": 55, "top": 19, "right": 30, "bottom": 50},
    autosize=alt.AutoSizeParams(type="none"),
).configure_view(stroke="black", strokeWidth=2)

chart.save("out.html", embed_options={"renderer": "svg", "actions": False})
